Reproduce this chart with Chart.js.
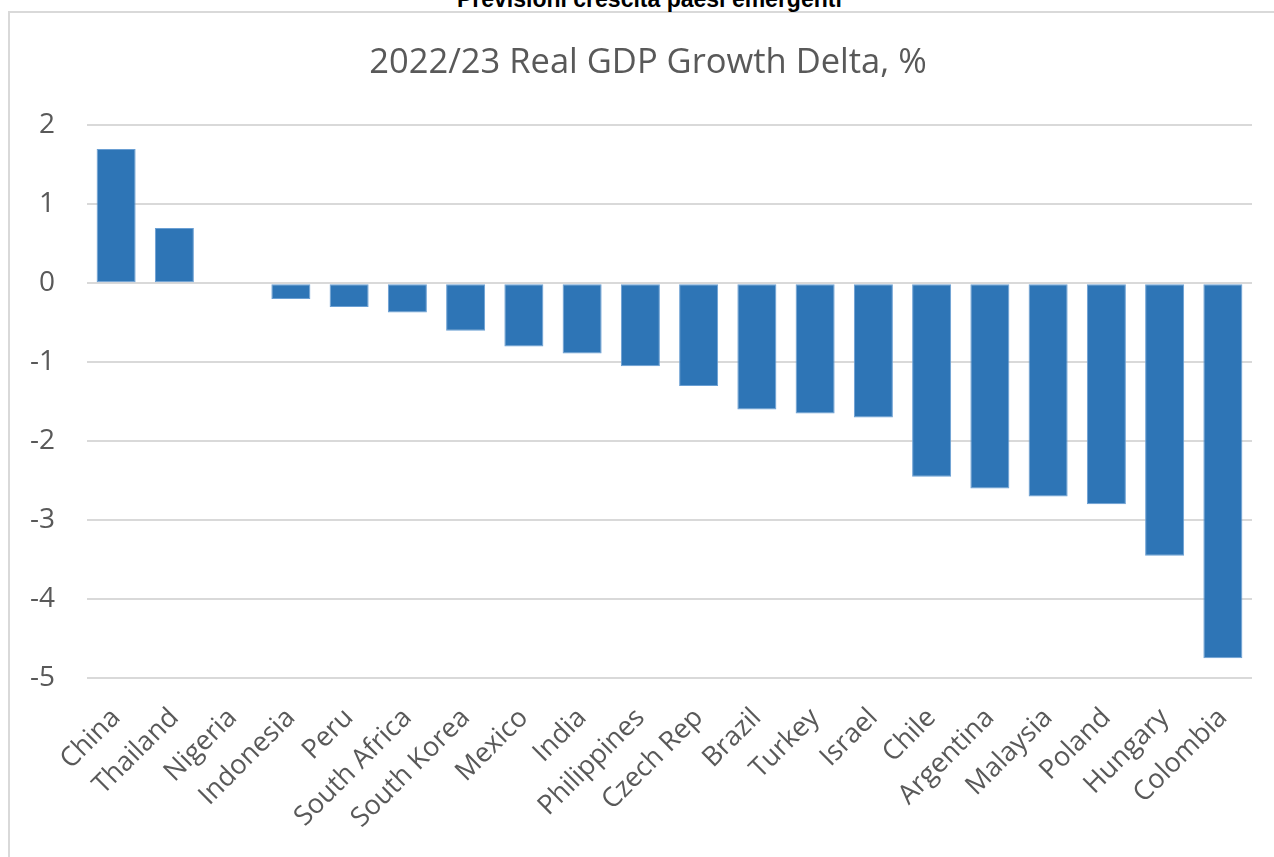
<!DOCTYPE html>
<html>
<head>
<meta charset="utf-8">
<title>2022/23 Real GDP Growth Delta</title>
<script src="https://cdn.jsdelivr.net/npm/chart.js@4"></script>
<style>
  html, body { margin: 0; padding: 0; background: #fff; overflow: hidden; }
  #wrap { position: relative; width: 1274px; height: 857px; overflow: hidden; }
  #frame {
    position: absolute; left: 8px; top: 11px; width: 1400px; height: 1000px;
    border-top: 2px solid #d9d9d9; border-left: 2px solid #d9d9d9;
  }
  #topTitle {
    position: absolute; left: 457px; top: -12px;
    font: bold 23px "Liberation Sans", Arial, sans-serif; line-height: 23px;
    color: #000; white-space: nowrap;
  }
  #gdpChart { position: absolute; left: 0; top: 0; }
</style>
</head>
<body>
<div id="wrap">
  <div id="frame"></div>
  <div id="topTitle">Previsioni crescita paesi emergenti</div>
  <canvas id="gdpChart" width="1274" height="857"></canvas>
</div>
<script>
let countries = ["China", "Thailand", "Nigeria", "Indonesia", "Peru", "South Africa", "South Korea",
                 "Mexico", "India", "Philippines", "Czech Rep", "Brazil", "Turkey", "Israel",
                 "Chile", "Argentina", "Malaysia", "Poland", "Hungary", "Colombia"];
let growthDelta = [1.7, 0.7, 0, -0.2, -0.3, -0.37, -0.6, -0.8, -0.89, -1.05, -1.3, -1.6, -1.65, -1.7,
                   -2.45, -2.6, -2.7, -2.8, -3.45, -4.75];
let yTicks = [2, 1, 0, -1, -2, -3, -4, -5];

let chartTitle = "2022/23 Real GDP Growth Delta, %";
let textColor = "#595959";
let gridColor = "#d9d9d9";
let barColor = "#2e75b6";

// nudge the title box so it is centred a bit right of the canvas centre, like the original
const shiftTitle = {
    id: "shiftTitle",
    afterLayout(chart) {
        if (chart.titleBlock) chart.titleBlock.left = 44;
    }
};

let chart = new Chart(document.getElementById("gdpChart"), {
    type: "bar",
    data: {
        labels: countries,
        datasets: [{
            label: "Real GDP Growth Delta",
            data: growthDelta,
            backgroundColor: barColor,
            borderColor: "#6a9fd3",
            borderWidth: 1,
            borderSkipped: false,
            barPercentage: 0.67,
            categoryPercentage: 1.0
        }]
    },
    options: {
        responsive: false,
        animation: false,
        layout: { padding: { left: 0, right: 22, top: 0, bottom: 0 } },
        plugins: {
            legend: { display: false },
            tooltip: { enabled: false },
            title: {
                display: true,
                text: chartTitle,
                color: textColor,
                font: { family: "Open Sans", size: 34.5, weight: "normal" },
                padding: { top: 42, bottom: 42 }
            }
        },
        scales: {
            x: {
                grid: { display: false, drawTicks: false },
                border: { display: false },
                ticks: {
                    color: textColor,
                    font: { family: "Open Sans", size: 27 },
                    minRotation: 45,
                    maxRotation: 45,
                    autoSkip: false,
                    padding: 24
                },
                afterFit: function (scale) { scale.height = 179; }
            },
            y: {
                min: -5,
                max: 2,
                afterBuildTicks: function (scale) {
                    scale.ticks = yTicks.map(v => ({ value: v }));
                },
                grid: { color: gridColor, lineWidth: 2, drawTicks: false },
                border: { display: false },
                ticks: {
                    color: textColor,
                    font: { family: "Open Sans", size: 28 },
                    padding: 32
                },
                afterFit: function (scale) { scale.width = 87; }
            }
        }
    },
    plugins: [shiftTitle]
});
</script>
</body>
</html>
